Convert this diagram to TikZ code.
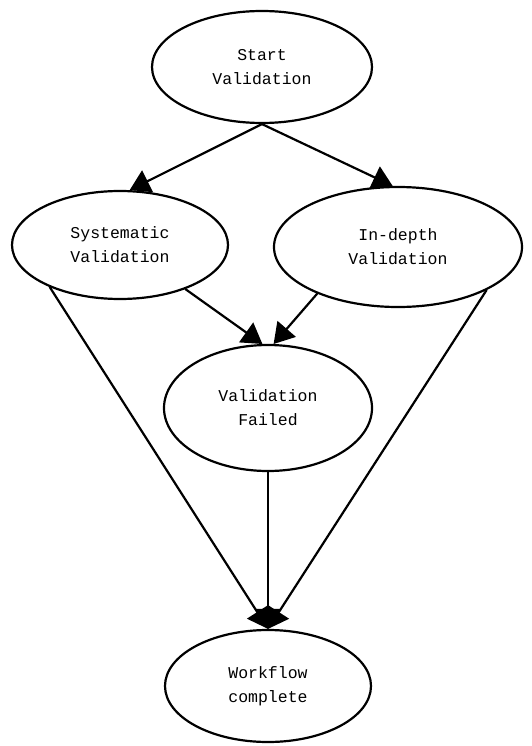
\documentclass[tikz,border=0pt]{standalone}
\usepackage{fontspec}
\setmonofont{Liberation Mono}
\usetikzlibrary{positioning,arrows.meta,shapes.geometric}

\begin{document}
\begin{tikzpicture}[x=1pt, y=-1pt, line width=2.2pt, line cap=round,
  every node/.style={font=\ttfamily\fontsize{16.5}{24}\selectfont, align=center},
  stage/.style={draw, ellipse, inner sep=0pt},
  flow/.style={-{Triangle[length=20pt,width=24pt]}}]
  \useasboundingbox (0,0) rectangle (531,746);
  \node[stage, minimum width=220pt, minimum height=112pt] (start) at (262,67)  {Start\\Validation};
  \node[stage, minimum width=216pt, minimum height=108pt] (sys)   at (120,245) {Systematic\\Validation};
  \node[stage, minimum width=248pt, minimum height=120pt] (deep)  at (398,247) {In-depth\\Validation};
  \node[stage, minimum width=208pt, minimum height=126pt] (fail)  at (268,408) {Validation\\Failed};
  \node[stage, minimum width=206pt, minimum height=112pt] (done)  at (268,686) {Workflow\\complete};
  \draw[flow] (start.south) -- (sys.80);
  \draw[flow] (start.south) -- (deep.95);
  \draw[flow] (sys.326) -- (fail.95);
  \draw[flow] (deep.210) -- (fail.85);
  \draw[flow] (sys.211) -- (done.north);
  \draw[flow] (fail.south) -- (done.north);
  \draw[flow] (deep.334) -- (done.north);
\end{tikzpicture}
\end{document}
